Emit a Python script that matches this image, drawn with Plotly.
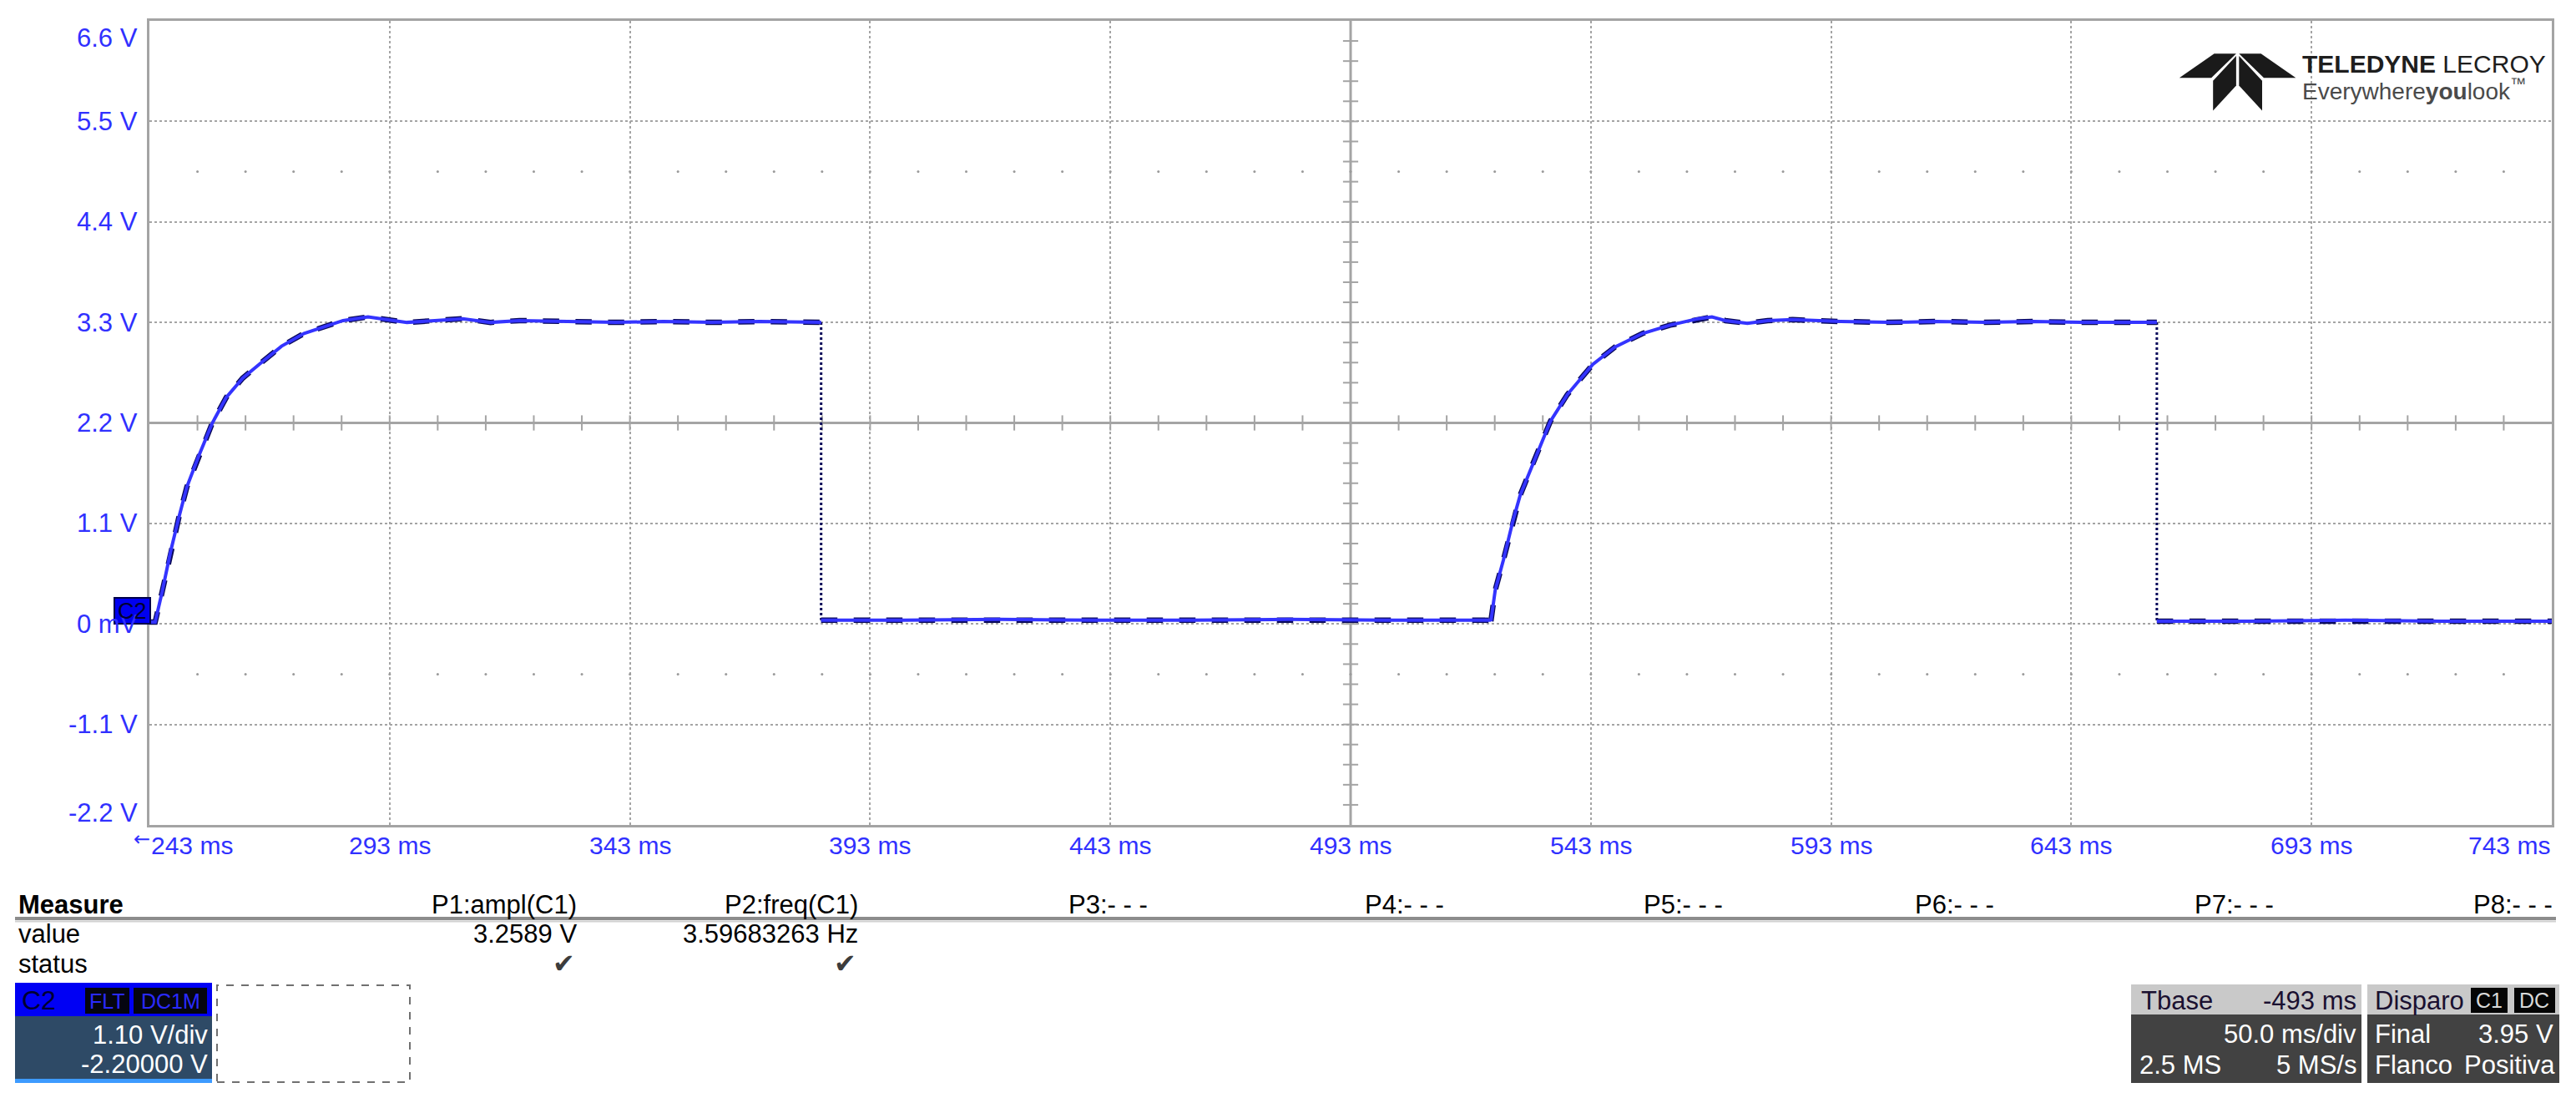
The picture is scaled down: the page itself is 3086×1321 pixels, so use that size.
import plotly.graph_objects as go

# ## Scope settings (C2, 1.10 V/div, 50 ms/div)

t_start, t_stop, t_div = 243.0, 743.0, 50.0
v_bottom, v_top, v_div = -2.2, 6.6, 1.1

y_labels = ['6.6 V', '5.5 V', '4.4 V', '3.3 V', '2.2 V', '1.1 V', '0 mV', '-1.1 V', '-2.2 V']
y_values = [6.6, 5.5, 4.4, 3.3, 2.2, 1.1, 0.0, -1.1, -2.2]
x_labels = ['243 ms', '293 ms', '343 ms', '393 ms', '443 ms', '493 ms', '543 ms', '593 ms', '643 ms', '693 ms', '743 ms']
x_values = [243, 293, 343, 393, 443, 493, 543, 593, 643, 693, 743]

# ## Waveform (ms, V)

pulse1_t = [243.0, 244.2, 245.6, 247.4, 249.1, 250.8, 253.2, 256.1, 259.0, 262.4, 266.5, 270.5, 275.2, 279.2,
            283.3, 288.5, 292.5, 296.6, 302.4, 308.2, 314.0, 320.0, 330.0, 340.0, 350.0, 360.0, 370.0, 382.8]
pulse1_v = [0.02, 0.02, 0.34, 0.79, 1.16, 1.50, 1.83, 2.20, 2.48, 2.69, 2.87, 3.04, 3.18, 3.25,
            3.32, 3.36, 3.33, 3.30, 3.32, 3.34, 3.30, 3.32, 3.31, 3.30, 3.31, 3.30, 3.31, 3.30]

low1_t = [382.8, 400.0, 420.0, 440.0, 460.0, 480.0, 500.0, 522.2]
low1_v = [0.04, 0.04, 0.05, 0.04, 0.04, 0.05, 0.04, 0.04]

pulse2_t = [522.2, 523.1, 524.8, 526.8, 528.3, 530.6, 532.9, 534.6, 538.1, 541.0, 543.4, 548.0, 553.8, 559.5,
            565.3, 568.2, 571.0, 575.6, 579.8, 585.0, 595.0, 605.0, 615.0, 625.0, 635.0, 645.0, 660.8]
pulse2_v = [0.03, 0.37, 0.70, 1.13, 1.41, 1.71, 2.02, 2.22, 2.51, 2.69, 2.84, 3.03, 3.18, 3.27,
            3.34, 3.36, 3.32, 3.29, 3.32, 3.33, 3.31, 3.30, 3.31, 3.30, 3.31, 3.30, 3.30]

low2_t = [660.8, 680.0, 700.0, 720.0, 743.0]
low2_v = [0.03, 0.03, 0.04, 0.03, 0.03]

fall_t = [382.8, 660.8]
fall_high = [3.30, 3.30]
fall_low = [0.04, 0.03]

# ## Measurements / status boxes

measure_heads = ['P1:ampl(C1)', 'P2:freq(C1)', 'P3:- - -', 'P4:- - -', 'P5:- - -', 'P6:- - -', 'P7:- - -', 'P8:- - -']
measure_values = ['3.2589 V', '3.59683263 Hz']

# the page has an 8px body margin, so work in page pixels and shift
OFF = 8
PAGE_W, PAGE_H = 3086, 1321
W, H = PAGE_W - 2 * OFF, PAGE_H - 2 * OFF
# plot area in page pixels
L, R, T, B = 179, 3057, 25, 988


def px(x):
    return (x - L) / (R - L)


def py(y):
    return (B - y) / (B - T)


FONT = 'Liberation Sans, Arial, sans-serif'
GRID = '#a4a4a4'
BLUE_TXT = '#3030ff'

wave_t = pulse1_t + [None] + low1_t + [None] + pulse2_t + [None] + low2_t
wave_v = pulse1_v + [None] + low1_v + [None] + pulse2_v + [None] + low2_v

fall_x, fall_y = [], []
for t, hi, lo in zip(fall_t, fall_high, fall_low):
    fall_x += [t, t, None]
    fall_y += [hi, lo, None]

fig = go.Figure()

# graticule decorations: centre line ticks and the dotted rows
n_x = int(round((t_stop - t_start) / t_div))
n_y = int(round((v_top - v_bottom) / v_div))
t_mid = (t_start + t_stop) / 2
v_mid = (v_top + v_bottom) / 2
sub_t = [t_start + k * t_div / 5 for k in range(1, n_x * 5)]
sub_v = [v_bottom + k * v_div / 5 for k in range(1, n_y * 5)]

fig.add_trace(go.Scatter(x=sub_t, y=[v_mid] * len(sub_t), mode='markers', hoverinfo='skip',
                         marker=dict(symbol='line-ns', size=13, line=dict(width=2, color=GRID))))
fig.add_trace(go.Scatter(x=[t_mid] * len(sub_v), y=sub_v, mode='markers', hoverinfo='skip',
                         marker=dict(symbol='line-ew', size=13, line=dict(width=2, color=GRID))))
for row in [v_top - 1.5 * v_div, v_bottom + 1.5 * v_div]:
    fig.add_trace(go.Scatter(x=sub_t, y=[row] * len(sub_t), mode='markers', hoverinfo='skip',
                             marker=dict(size=3, color='#9a9a9a')))

# waveform: dark sample dashes with the bright trace on top
fig.add_trace(go.Scatter(x=wave_t, y=wave_v, mode='lines', line=dict(color='#0a0a5a', width=6.5, dash='dash')))
fig.add_trace(go.Scatter(x=fall_x, y=fall_y, mode='lines', line=dict(color='#0a0a5a', width=3, dash='dot')))
fig.add_trace(go.Scatter(x=wave_t, y=wave_v, mode='lines', line=dict(color='#3434ff', width=4)))

fig.update_xaxes(range=[t_start, t_stop], tickvals=[t_start + k * t_div for k in range(n_x + 1)],
                 showticklabels=False, showgrid=True, gridcolor=GRID, gridwidth=2, griddash='dot',
                 showline=True, mirror=True, linecolor=GRID, linewidth=3, zeroline=False, ticks='')
fig.update_yaxes(range=[v_bottom, v_top], tickvals=[v_bottom + k * v_div for k in range(n_y + 1)],
                 showticklabels=False, showgrid=True, gridcolor=GRID, gridwidth=2, griddash='dot',
                 showline=True, mirror=True, linecolor=GRID, linewidth=3, zeroline=False, ticks='')

shapes = [
    dict(type='line', xref='x', yref='y', x0=t_mid, x1=t_mid, y0=v_bottom, y1=v_top,
         line=dict(color=GRID, width=3), layer='below'),
    dict(type='line', xref='x', yref='y', x0=t_start, x1=t_stop, y0=v_mid, y1=v_mid,
         line=dict(color=GRID, width=3), layer='below'),
]
ann = []

# axis labels
for lab, v in zip(y_labels, y_values):
    shift = 0
    if v == v_top:
        shift = -20
    elif v == v_bottom:
        shift = 15
    ann.append(dict(text=lab, xref='paper', yref='y', x=0, y=v, xanchor='right', yanchor='middle',
                    xshift=-12, yshift=shift, showarrow=False, font=dict(family=FONT, size=31, color=BLUE_TXT)))
for i, (lab, t) in enumerate(zip(x_labels, x_values)):
    anchor = 'center'
    if i == 0:
        anchor = 'left'
    elif i == len(x_labels) - 1:
        anchor = 'right'
    ann.append(dict(text=lab, xref='x', yref='paper', x=t, y=0, xanchor=anchor, yanchor='top',
                    yshift=-6, showarrow=False, font=dict(family=FONT, size=30, color=BLUE_TXT)))
ann.append(dict(text='←', xref='x', yref='paper', x=t_start, y=0, xanchor='right', yanchor='top',
                xshift=3, yshift=-1, showarrow=False, font=dict(family='DejaVu Sans', size=24, color=BLUE_TXT)))


def box(x0, y0, x1, y1, fill, line=None, dash=None):
    shapes.append(dict(type='rect', xref='paper', yref='paper', x0=px(x0), x1=px(x1), y0=py(y1), y1=py(y0),
                       fillcolor=fill, line=dict(color=line or fill, width=2 if line else 0, dash=dash),
                       layer='above'))


def label(text, x, y, anchor, color, size=31, family=FONT):
    ann.append(dict(text=text, xref='paper', yref='paper', x=px(x), y=py(y), xanchor=anchor, yanchor='middle',
                    showarrow=False, font=dict(family=family, size=size, color=color)))


# channel marker at 0 V (drawn over the "0 mV" label, as on screen)
box(137, 716, 180, 747, '#0000f0', line='#00004a')
label('C2', 158, 732, 'center', '#000030', size=27)

# logo
logo_polys = [
    [(178, 185), (300, 100), (377, 100), (290, 185)],
    [(586, 185), (464, 100), (387, 100), (474, 185)],
    [(296, 195), (377, 108), (377, 212), (296, 300)],
    [(387, 108), (468, 195), (468, 300), (387, 212)],
]
for poly in logo_polys:
    pts = [(2550 + a / 2.925, 30 + b / 2.925) for a, b in poly]
    path = 'M ' + ' L '.join('%.5f,%.5f' % (px(a), py(b)) for a, b in pts) + ' Z'
    shapes.append(dict(type='path', xref='paper', yref='paper', path=path, fillcolor='#1a1a1a',
                       line=dict(width=0)))
ann.append(dict(text='<b>TELEDYNE</b> LECROY', xref='paper', yref='paper', x=px(2756), y=py(76),
                xanchor='left', yanchor='middle', showarrow=False,
                font=dict(family=FONT, size=30, color='#1e1e1e')))
ann.append(dict(text='Everywhere<b>you</b>look<sup>™</sup>', xref='paper', yref='paper', x=px(2756), y=py(107),
                xanchor='left', yanchor='middle', showarrow=False,
                font=dict(family=FONT, size=28, color='#4a4a4a')))

# measurement table
tbl_font = dict(family=FONT, size=31, color='#000000')
ann.append(dict(text='<b>Measure</b>', xref='paper', yref='paper', x=px(20), y=py(1083), xanchor='left',
                yanchor='middle', showarrow=False, font=tbl_font))
head_right = [693, 1030, 1377, 1732, 2066, 2391, 2726, 3060]
for lab, xr in zip(measure_heads, head_right):
    ann.append(dict(text=lab, xref='paper', yref='paper', x=px(xr), y=py(1083), xanchor='right',
                    yanchor='middle', showarrow=False, font=tbl_font))
for lab, xr in zip(measure_values, head_right):
    ann.append(dict(text=lab, xref='paper', yref='paper', x=px(xr), y=py(1118), xanchor='right',
                    yanchor='middle', showarrow=False, font=tbl_font))
    ann.append(dict(text='✔', xref='paper', yref='paper', x=px(xr - 18), y=py(1154), xanchor='center',
                    yanchor='middle', showarrow=False, font=dict(family='DejaVu Sans', size=32, color='#3c3c3c')))
ann.append(dict(text='value', xref='paper', yref='paper', x=px(20), y=py(1118), xanchor='left',
                yanchor='middle', showarrow=False, font=tbl_font))
ann.append(dict(text='status', xref='paper', yref='paper', x=px(20), y=py(1154), xanchor='left',
                yanchor='middle', showarrow=False, font=tbl_font))
shapes.append(dict(type='line', xref='paper', yref='paper', x0=px(18), x1=px(3062), y0=py(1100), y1=py(1100),
                   line=dict(color='#8c8c8c', width=4)))
shapes.append(dict(type='line', xref='paper', yref='paper', x0=px(18), x1=px(3062), y0=py(1103.5), y1=py(1103.5),
                   line=dict(color='#d0d0d0', width=2)))

# C2 channel box
box(18, 1177, 254, 1297, '#2e4a66')
box(18, 1177, 254, 1217, '#0000f4')
box(18, 1292, 254, 1297, '#3d9bff')
box(102, 1183, 155, 1214, '#050510')
box(160, 1183, 248, 1214, '#050510')
label('C2', 24, 1198, 'left', '#000030', size=32)
label('FLT', 128, 1199, 'center', '#2a2aff', size=25)
label('DC1M', 204, 1199, 'center', '#2a2aff', size=25)
label('1.10 V/div', 251, 1239, 'right', '#ffffff')
label('-2.20000 V', 251, 1274, 'right', '#ffffff')
box(260, 1180, 491, 1296, 'rgba(0,0,0,0)', line='#707070', dash='dash')

# timebase box
box(2553, 1179, 2829, 1297, '#424242')
box(2553, 1179, 2829, 1215, '#c9c9c9')
label('Tbase', 2563, 1198, 'left', '#1a1030')
label('-493 ms', 2825, 1198, 'right', '#1a1030')
label('50.0 ms/div', 2825, 1238, 'right', '#ffffff')
label('2.5 MS', 2561, 1275, 'left', '#ffffff')
label('5 MS/s', 2825, 1275, 'right', '#ffffff')

# trigger box
box(2836, 1179, 3066, 1297, '#424242')
box(2836, 1179, 3066, 1215, '#c9c9c9')
box(2960, 1183, 3004, 1213, '#050505')
box(3012, 1183, 3061, 1213, '#050505')
label('Disparo', 2843, 1198, 'left', '#1a1030')
label('C1', 2982, 1198, 'center', '#d8d8d8', size=25)
label('DC', 3036, 1198, 'center', '#d8d8d8', size=25)
label('Final', 2843, 1238, 'left', '#ffffff')
label('3.95 V', 3061, 1238, 'right', '#ffffff')
label('Flanco', 2843, 1275, 'left', '#ffffff')
label('Positiva', 3063, 1275, 'right', '#ffffff')

fig.update_layout(width=W, height=H, margin=dict(l=L - OFF, r=W - (R - OFF), t=T - OFF, b=H - (B - OFF)),
                  plot_bgcolor='white', paper_bgcolor='white', showlegend=False,
                  shapes=shapes, annotations=ann)

fig.write_html("out.html")
